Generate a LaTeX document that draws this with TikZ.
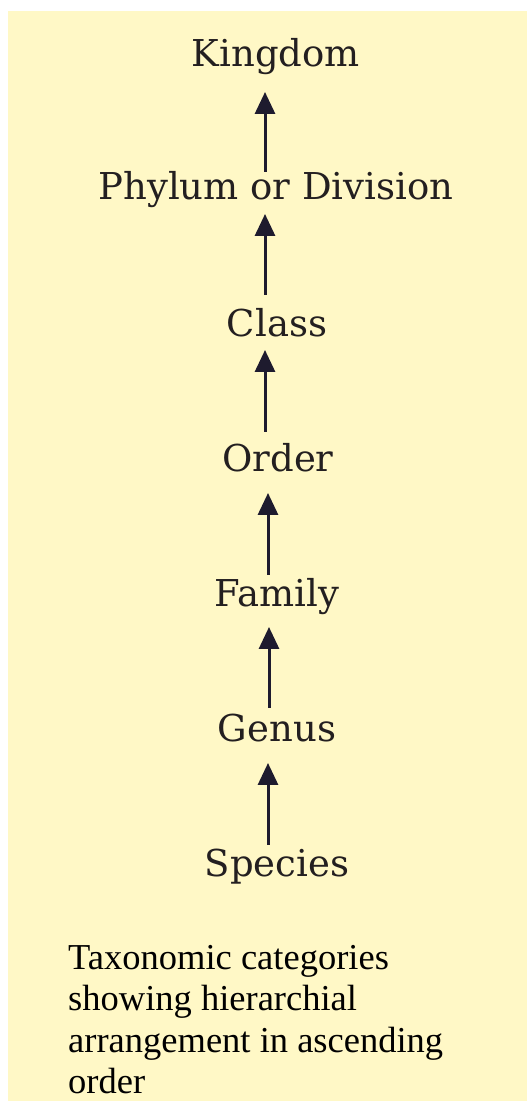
\documentclass[tikz,border=0pt]{standalone}
\usepackage{fontspec}
\setmainfont{Liberation Serif}
\newfontfamily\labelfont{DejaVu Serif}
\usetikzlibrary{arrows.meta}
\definecolor{bgyellow}{HTML}{FFF8C6}
\definecolor{inkc}{HTML}{231F20}
\definecolor{arrowc}{HTML}{1E1B2E}
\tikzset{
  rank/.style={anchor=base, inner sep=0pt, text=inkc, font=\labelfont\fontsize{37}{44}\selectfont},
  uparrow/.style={draw=arrowc, line width=3pt, -{Triangle[length=22pt,width=20pt]}},
  captext/.style={anchor=north west, inner sep=0pt, text=black, align=left,
    font=\fontsize{36.5}{41.5}\selectfont}
}
\begin{document}
\begin{tikzpicture}[x=1pt,y=1pt]
\useasboundingbox (0,0) rectangle (527,1101);
\fill[bgyellow] (8,0) rectangle (527,1090);
\node[rank] (kingdom) at (276,1034) {Kingdom};
\node[rank] (phylum)  at (276,901) {Phylum or Division};
\node[rank] (class)   at (277,764) {Class};
\node[rank] (order)   at (278,629) {Order};
\node[rank] (family)  at (277,494) {Family};
\node[rank] (genus)   at (277,359) {Genus};
\node[rank] (species) at (277,224) {Species};
\draw[uparrow] ([xshift=-11pt,yshift=28pt]phylum.base) -- ([xshift=-11pt,yshift=-25pt]kingdom.base);
\draw[uparrow] ([xshift=-12pt,yshift=42pt]class.base) -- ([xshift=-11pt,yshift=-14pt]phylum.base);
\draw[uparrow] ([xshift=-13pt,yshift=40pt]order.base) -- ([xshift=-12pt,yshift=-13pt]class.base);
\draw[uparrow] ([xshift=-9pt,yshift=32pt]family.base) -- ([xshift=-10pt,yshift=-21pt]order.base);
\draw[uparrow] ([xshift=-8pt,yshift=34pt]genus.base) -- ([xshift=-8pt,yshift=-20pt]family.base);
\draw[uparrow] ([xshift=-9pt,yshift=32pt]species.base) -- ([xshift=-9pt,yshift=-21pt]genus.base);
\node[captext] (caption) at (68,156) {Taxonomic categories\\showing hierarchial\\arrangement in ascending\\order};
\end{tikzpicture}
\end{document}
